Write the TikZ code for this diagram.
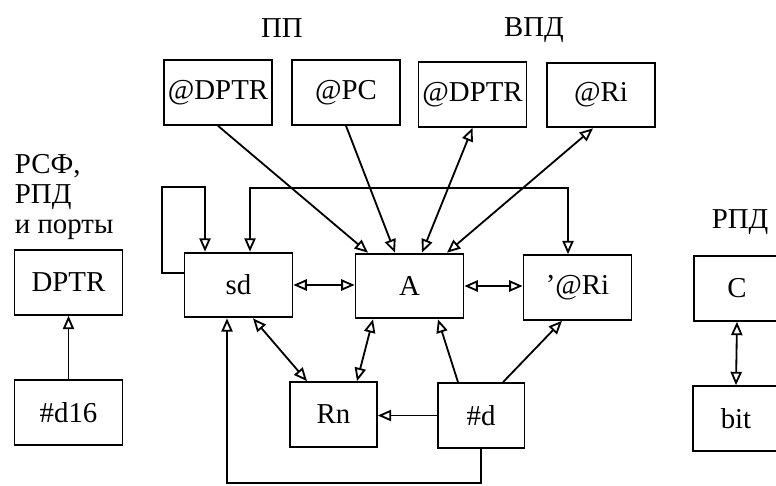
\documentclass[tikz,border=0pt]{standalone}
\usepackage{fontspec}
\setmainfont{Liberation Serif}
\usetikzlibrary{arrows.meta,calc}

\begin{document}
\begin{tikzpicture}[x=0.025cm,y=-0.025cm,line width=1.3pt,
  every node/.style={font=\fontsize{20.5}{21.5}\selectfont},
  reg/.style={draw,rectangle,inner sep=1pt,minimum width=2.7cm,minimum height=1.62cm},
  sreg/.style={reg,minimum width=2.17cm},
  arr/.style={-{Triangle[open,length=9.5pt,width=8pt]}},
  darr/.style={{Triangle[open,length=9.5pt,width=8pt]}-{Triangle[open,length=9.5pt,width=8pt]}}]
\useasboundingbox (0,0) rectangle (776,486);

%Headings
\node (pp) at (282,28) {ПП};
\node (vpd) at (534,30) {ВПД};
\node[anchor=north west,align=left,inner sep=0pt] (rsf) at (14,153) {РСФ,\\РПД\\и порты};
\node (rpd) at (740,222) {РПД};

%Indirect sources
\node[reg] (dptrA) at (218,92.5) {@DPTR};
\node[reg] (pcA) at (346,92.5) {@PC};
\node[reg] (dptrB) at (472.5,94.5) {@DPTR};
\node[reg] (riA) at (601,95) {@Ri};

%Registers
\node[reg] (dptr) at (68.5,282.5) {DPTR};
\node[reg] (dsx) at (68.5,412.5) {\#d16};
\node[reg] (sd) at (238.5,285) {sd};
\node[reg] (acc) at (409.5,286) {A};
\node[reg] (riB) at (577.5,287.5) {'@Ri};
\node[sreg] (rn) at (333.5,414.5) {Rn};
\node[sreg] (imm) at (481,415.5) {\#d};
\node[sreg] (cf) at (737,288.5) {C};
\node[sreg] (bit) at (736,418.5) {bit};

\coordinate (loop) at (162,187);
\coordinate (busL) at (250,188);
\coordinate (busR) at (568,188);
\coordinate (bot) at (227,483);

%Into A from above
\draw[arr] (dptrA.south) -- ($(acc.north)+(-41.5,0)$);
\draw[arr] (pcA.south) -- ($(acc.north)+(-14.5,0)$);
\draw[darr] (dptrB.south) -- ($(acc.north)+(12.5,0)$);
\draw[darr] ($(riA.south)+(-8,0)$) -- ($(acc.north)+(37.5,0)$);

%sd loop and top bus
\draw[arr] ($(sd.west)+(0,-12)$) -| (loop) -| ($(sd.north)+(-33.5,0)$);
\draw[darr] (busL |- sd.north) -- (busL) -- (busR) -- (busR |- riB.north);

%Middle row
\draw[darr] (sd.east) -- (sd.east -| acc.west);
\draw[darr] (acc.east) -- (acc.east -| riB.west);
\draw[darr] ($(sd.south)+(14.5,0)$) -- ($(rn.north)+(-26.5,0)$);
\draw[darr] ($(acc.south)+(-36.5,0)$) -- ($(rn.north)+(23.5,0)$);

%From #d
\draw[arr] ($(imm.north)+(-23,0)$) -- ($(acc.south)+(28.5,0)$);
\draw[arr] ($(imm.north)+(22,0)$) -- ($(riB.south)+(-15.5,0)$);
\draw[arr] (imm.west) -- (imm.west -| rn.east);
\draw[arr] (imm.south) |- (bot) -- (bot |- sd.south);

%Left and right
\draw[arr] (dsx.north) -- (dptr.south);
\draw[darr] (cf.south) -- (bit.north);

\end{tikzpicture}
\end{document}
